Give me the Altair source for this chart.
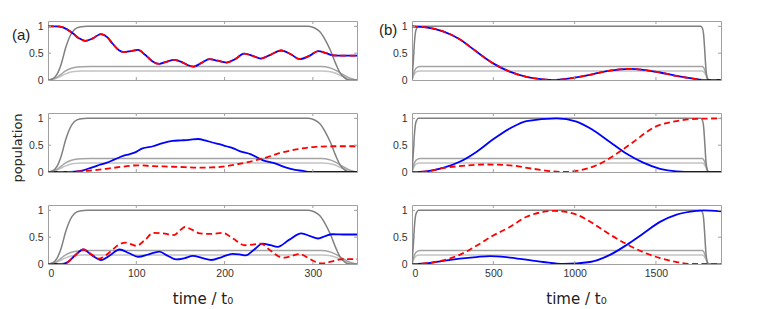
import altair as alt
import pandas as pd

# ---------------- data ----------------
# panel (a): pulse envelopes (grey)
A_DARK_T = [0, 5, 10, 15, 20, 25, 30, 36, 45, 295, 302, 308, 314, 320, 326, 331, 336, 342, 350]
A_DARK_V = [0, 0.02, 0.1, 0.3, 0.6, 0.82, 0.94, 0.99, 1.0, 1.0, 0.97, 0.9, 0.75, 0.55, 0.3, 0.13, 0.04, 0.0, 0.0]
A_MID_T = [0, 5, 10, 15, 20, 25, 30, 38, 48, 310, 318, 325, 332, 340, 347, 350]
A_MID_V = [0, 0.015, 0.05, 0.11, 0.17, 0.21, 0.235, 0.248, 0.25, 0.25, 0.235, 0.19, 0.12, 0.05, 0.01, 0.0]
A_LIGHT_V = [0, 0.01, 0.035, 0.075, 0.115, 0.145, 0.16, 0.168, 0.17, 0.17, 0.16, 0.13, 0.08, 0.035, 0.007, 0.0]

# (a) top row: blue and red coincide
A1_T = [0, 10, 17, 28, 35, 42, 50, 60, 67, 73, 80, 86, 94, 102, 110, 114, 119, 126, 134, 143, 152, 158,
        165, 174, 183, 192, 202, 212, 222, 232, 241, 252, 264, 275, 285, 296, 306, 315, 323, 335, 350]
A1_V = [1.0, 1.0, 0.98, 0.87, 0.78, 0.73, 0.77, 0.855, 0.8, 0.68, 0.56, 0.52, 0.54, 0.56, 0.47, 0.41,
        0.34, 0.3, 0.34, 0.375, 0.33, 0.28, 0.25, 0.32, 0.39, 0.36, 0.325, 0.39, 0.49, 0.45, 0.4, 0.47,
        0.55, 0.48, 0.39, 0.45, 0.54, 0.5, 0.46, 0.455, 0.455]

# (a) middle row
A2_BLUE_T = [0, 20, 30, 40, 47, 56, 66, 75, 85, 92, 98, 107, 119, 130, 141, 151, 160, 170, 178, 186,
             194, 202, 210, 217, 230, 243, 258, 270, 280, 289, 296, 350]
A2_BLUE_V = [0, 0, 0.005, 0.03, 0.07, 0.12, 0.17, 0.23, 0.3, 0.33, 0.36, 0.44, 0.48, 0.54, 0.58, 0.59,
             0.6, 0.615, 0.59, 0.55, 0.52, 0.48, 0.44, 0.39, 0.33, 0.22, 0.155, 0.08, 0.04, 0.02, 0.0, 0.0]
A2_RED_T = [0, 20, 35, 47, 66, 85, 102, 119, 138, 155, 168, 185, 198, 213, 228, 247, 262, 281, 303, 325, 350]
A2_RED_V = [0, 0, 0.01, 0.025, 0.06, 0.1, 0.125, 0.11, 0.1, 0.09, 0.08, 0.085, 0.1, 0.14, 0.19, 0.27,
            0.35, 0.42, 0.47, 0.48, 0.48]

# (a) bottom row
A3_BLUE_T = [0, 15, 22, 30, 40, 50, 60, 70, 81, 92, 102, 114, 126, 136, 145, 155, 164, 175, 185, 197,
             209, 217, 224, 233, 243, 252, 260, 273, 287, 297, 306, 314, 322, 335, 350]
A3_BLUE_V = [0, 0, 0.03, 0.15, 0.27, 0.16, 0.075, 0.16, 0.27, 0.2, 0.135, 0.18, 0.23, 0.15, 0.085, 0.11,
             0.15, 0.11, 0.075, 0.13, 0.19, 0.18, 0.16, 0.26, 0.38, 0.35, 0.32, 0.45, 0.57, 0.52, 0.475,
             0.52, 0.555, 0.55, 0.55]
A3_RED_T = [0, 15, 22, 30, 40, 50, 58, 70, 80, 88, 94, 100, 110, 119, 130, 143, 149, 155, 163, 172,
            185, 198, 210, 223, 232, 241, 252, 262, 268, 276, 285, 294, 303, 311, 322, 334, 350]
A3_RED_V = [0, 0, 0.03, 0.15, 0.27, 0.17, 0.1, 0.22, 0.36, 0.4, 0.37, 0.34, 0.45, 0.58, 0.57, 0.54,
            0.62, 0.69, 0.64, 0.57, 0.56, 0.58, 0.47, 0.35, 0.36, 0.38, 0.25, 0.136, 0.12, 0.15, 0.185,
            0.12, 0.04, 0.01, 0.05, 0.09, 0.09]

# panel (b): pulse envelopes (grey)
B_DARK_T = [0, 8, 15, 22, 30, 40, 1775, 1785, 1793, 1800, 1807, 1815, 1822, 1900]
B_DARK_V = [0, 0.35, 0.7, 0.9, 0.97, 1.0, 1.0, 0.97, 0.85, 0.55, 0.22, 0.04, 0.0, 0.0]
B_MID_T = [0, 10, 20, 35, 50, 1785, 1795, 1805, 1815, 1825, 1900]
B_MID_V = [0, 0.12, 0.2, 0.24, 0.25, 0.25, 0.22, 0.14, 0.05, 0.0, 0.0]
B_LIGHT_V = [0, 0.08, 0.135, 0.165, 0.17, 0.17, 0.15, 0.1, 0.035, 0.0, 0.0]

# (b) top row: blue and red coincide
B1_T = [0, 88, 191, 293, 396, 499, 601, 704, 806, 868, 971, 1114, 1217, 1340, 1422, 1525, 1627, 1730, 1802, 1900]
B1_V = [1.0, 0.98, 0.906, 0.76, 0.53, 0.31, 0.156, 0.06, 0.0125, 0.0, 0.03, 0.11, 0.175, 0.206, 0.19,
        0.14, 0.075, 0.025, 0.0, 0.0]

# (b) middle row
B2_BLUE_T = [0, 88, 191, 293, 396, 499, 601, 704, 889, 1012, 1114, 1217, 1320, 1422, 1525, 1627, 1730, 1900]
B2_BLUE_V = [0, 0.0125, 0.075, 0.19, 0.375, 0.61, 0.81, 0.95, 1.0, 0.94, 0.78, 0.56, 0.34, 0.175, 0.06,
             0.0125, 0.0, 0.0]
B2_RED_T = [0, 88, 191, 293, 458, 601, 745, 930, 1012, 1135, 1258, 1361, 1484, 1627, 1750, 1900]
B2_RED_V = [0, 0.01, 0.075, 0.11, 0.14, 0.125, 0.06, 0.0, 0.02, 0.125, 0.34, 0.56, 0.825, 0.95, 0.99, 1.0]

# (b) bottom row
B3_BLUE_T = [0, 88, 191, 396, 478, 601, 806, 930, 1094, 1217, 1320, 1422, 1525, 1627, 1750, 1791, 1900]
B3_BLUE_V = [0, 0.01, 0.06, 0.13, 0.147, 0.12, 0.037, 0.0, 0.037, 0.17, 0.356, 0.57, 0.785, 0.92, 0.99,
             1.0, 0.98]
B3_RED_T = [0, 88, 191, 293, 396, 499, 601, 704, 806, 878, 1012, 1114, 1217, 1320, 1422, 1525, 1627, 1730, 1900]
B3_RED_V = [0, 0.015, 0.067, 0.17, 0.34, 0.53, 0.69, 0.88, 0.97, 0.99, 0.92, 0.755, 0.55, 0.37, 0.22,
            0.11, 0.037, 0.0, 0.0]

A_XTICKS = [0, 100, 200, 300]
B_XTICKS = [0, 500, 1000, 1500]
YTICKS = [0, 0.5, 1]

# ---------------- styling ----------------
W, H = 309, 59
FRAME = "#a0a0a0"
DARK = "#808080"
MID = "#a4a4a4"
LIGHT = "#c4c4c4"
BLUE = "#0000ff"
RED = "#ff0000"
TXT = "#333333"
FONT = "Liberation Sans"


def df(t, v):
    return pd.DataFrame({"t": t, "v": v})


def panel(xmax, xticks, curves, bottom, label=None, label_xy=None, ytitle=False, title_x=None):
    xscale = alt.Scale(domain=[0, xmax], nice=False, zero=False)
    yscale = alt.Scale(domain=[0, 1.1], nice=False)
    if bottom:
        axkw = dict(values=xticks, format="d", ticks=False, domain=False, grid=False,
                    labelFontSize=10.5, labelColor=TXT, labelPadding=4, labelFont=FONT,
                    title="time / t\u2080", titleFontSize=15, titleFontWeight="normal",
                    titleColor="#222222", titlePadding=13, titleFont="DejaVu Sans")
        if title_x is not None:
            axkw["titleX"] = title_x
        xaxis = alt.Axis(**axkw)
    else:
        xaxis = None
    yaxis = alt.Axis(values=YTICKS, format="~g", ticks=False, domain=False, grid=False,
                     labelFontSize=10.5, labelColor=TXT, labelPadding=5, labelFont=FONT, title=None)

    def X():
        return alt.X("t:Q", scale=xscale, axis=xaxis)

    def Y():
        return alt.Y("v:Q", scale=yscale, axis=yaxis)

    layers = []
    for (t, v, color, width, dashed) in curves:
        kw = dict(color=color, strokeWidth=width, interpolate="monotone", clip=True)
        if dashed:
            kw["strokeDash"] = [6, 3.5]
        layers.append(alt.Chart(df(t, v)).mark_line(**kw).encode(x=X(), y=Y()))

    inner = [x for x in xticks if 0 < x < xmax]
    tdf = pd.DataFrame({"t": inner})
    layers.append(alt.Chart(tdf).mark_rule(color=FRAME, strokeWidth=1).encode(
        x=X(), y=alt.value(H), y2=alt.value(H - 3)))
    layers.append(alt.Chart(tdf).mark_rule(color=FRAME, strokeWidth=1).encode(
        x=X(), y=alt.value(0), y2=alt.value(3)))
    vdf = pd.DataFrame({"v": [0.5, 1.0]})
    layers.append(alt.Chart(vdf).mark_rule(color=FRAME, strokeWidth=1).encode(
        y=Y(), x=alt.value(0), x2=alt.value(3)))
    layers.append(alt.Chart(vdf).mark_rule(color=FRAME, strokeWidth=1).encode(
        y=Y(), x=alt.value(W), x2=alt.value(W - 3)))

    if label is not None:
        layers.append(alt.Chart(pd.DataFrame({"s": [label]})).mark_text(
            font=FONT, fontSize=15, align="left", baseline="middle", color="#222222").encode(
            text="s:N", x=alt.value(label_xy[0]), y=alt.value(label_xy[1])))
    if ytitle:
        layers.append(alt.Chart(pd.DataFrame({"s": ["population"]})).mark_text(
            font="DejaVu Sans", fontSize=13, align="center", baseline="middle", angle=270,
            color="#222222").encode(text="s:N", x=alt.value(-30.5), y=alt.value(35)))

    return alt.layer(*layers).properties(width=W, height=H)


def greys(dark_t, dark_v, mid_t, mid_v, light_v):
    return [
        (mid_t, light_v, LIGHT, 1.5, False),
        (mid_t, mid_v, MID, 1.5, False),
        (dark_t, dark_v, DARK, 1.5, False),
    ]


ga = greys(A_DARK_T, A_DARK_V, A_MID_T, A_MID_V, A_LIGHT_V)
gb = greys(B_DARK_T, B_DARK_V, B_MID_T, B_MID_V, B_LIGHT_V)

a1 = panel(350, A_XTICKS, ga + [(A1_T, A1_V, BLUE, 1.8, False), (A1_T, A1_V, RED, 1.8, True)],
           False, label="(a)", label_xy=(-36, 14))
b1 = panel(1900, B_XTICKS, gb + [(B1_T, B1_V, BLUE, 1.8, False), (B1_T, B1_V, RED, 1.8, True)],
           False, label="(b)", label_xy=(-33, 9))
a2 = panel(350, A_XTICKS, ga + [(A2_BLUE_T, A2_BLUE_V, BLUE, 1.8, False),
                                (A2_RED_T, A2_RED_V, RED, 1.8, True)], False, ytitle=True)
b2 = panel(1900, B_XTICKS, gb + [(B2_BLUE_T, B2_BLUE_V, BLUE, 1.8, False),
                                 (B2_RED_T, B2_RED_V, RED, 1.8, True)], False)
a3 = panel(350, A_XTICKS, ga + [(A3_BLUE_T, A3_BLUE_V, BLUE, 1.8, False),
                                (A3_RED_T, A3_RED_V, RED, 1.8, True)], True)
b3 = panel(1900, B_XTICKS, gb + [(B3_BLUE_T, B3_BLUE_V, BLUE, 1.8, False),
                                 (B3_RED_T, B3_RED_V, RED, 1.8, True)], True, title_x=164)

chart = alt.concat(a1, b1, a2, b2, a3, b3, columns=2, spacing={"row": 33, "column": 55},
                   bounds="flush").properties(
    padding={"left": 3, "top": 12, "right": 5, "bottom": 2},
    background="white",
).configure_view(stroke=FRAME, strokeWidth=1)

chart.save("out.html", embed_options={"renderer": "svg", "actions": False})
